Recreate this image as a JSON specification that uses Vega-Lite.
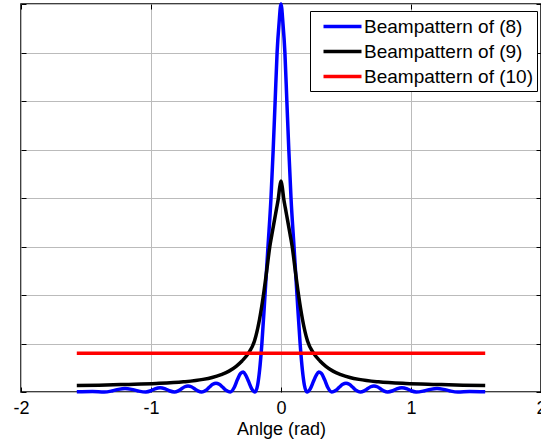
{
  "$schema": "https://vega.github.io/schema/vega-lite/v6.json",
  "width": 520,
  "height": 388,
  "autosize": {"type": "none"},
  "padding": {"left": 21, "top": 4, "right": 0, "bottom": 53},
  "background": "white",
  "config": {
    "font": "Liberation Sans",
    "view": {"stroke": "black", "strokeWidth": 1.5},
    "axis": {
      "domain": false,
      "tickColor": "black",
      "tickSize": -5,
      "tickWidth": 1,
      "gridColor": "#bbbbbb",
      "gridWidth": 1,
      "labelColor": "black",
      "titleColor": "black"
    }
  },
  "data": {
    "values": [
      {"x": -1.5708, "y": 0.005, "series": "Beampattern of (8)"},
      {"x": -1.45, "y": 0.01, "series": "Beampattern of (8)"},
      {"x": -1.36, "y": 0, "series": "Beampattern of (8)"},
      {"x": -1.3, "y": 0.022, "series": "Beampattern of (8)"},
      {"x": -1.25, "y": 0.054, "series": "Beampattern of (8)"},
      {"x": -1.2, "y": 0.07, "series": "Beampattern of (8)"},
      {"x": -1.15, "y": 0.054, "series": "Beampattern of (8)"},
      {"x": -1.1, "y": 0.022, "series": "Beampattern of (8)"},
      {"x": -1.04, "y": 0, "series": "Beampattern of (8)"},
      {"x": -1.0, "y": 0.026, "series": "Beampattern of (8)"},
      {"x": -0.97, "y": 0.064, "series": "Beampattern of (8)"},
      {"x": -0.93, "y": 0.09, "series": "Beampattern of (8)"},
      {"x": -0.89, "y": 0.064, "series": "Beampattern of (8)"},
      {"x": -0.86, "y": 0.026, "series": "Beampattern of (8)"},
      {"x": -0.82, "y": 0, "series": "Beampattern of (8)"},
      {"x": -0.79, "y": 0.024, "series": "Beampattern of (8)"},
      {"x": -0.76, "y": 0.076, "series": "Beampattern of (8)"},
      {"x": -0.74, "y": 0.108, "series": "Beampattern of (8)"},
      {"x": -0.715, "y": 0.125, "series": "Beampattern of (8)"},
      {"x": -0.69, "y": 0.108, "series": "Beampattern of (8)"},
      {"x": -0.67, "y": 0.076, "series": "Beampattern of (8)"},
      {"x": -0.64, "y": 0.024, "series": "Beampattern of (8)"},
      {"x": -0.61, "y": 0, "series": "Beampattern of (8)"},
      {"x": -0.58, "y": 0.031, "series": "Beampattern of (8)"},
      {"x": -0.55, "y": 0.103, "series": "Beampattern of (8)"},
      {"x": -0.525, "y": 0.158, "series": "Beampattern of (8)"},
      {"x": -0.5, "y": 0.18, "series": "Beampattern of (8)"},
      {"x": -0.475, "y": 0.158, "series": "Beampattern of (8)"},
      {"x": -0.45, "y": 0.103, "series": "Beampattern of (8)"},
      {"x": -0.42, "y": 0.031, "series": "Beampattern of (8)"},
      {"x": -0.39, "y": 0, "series": "Beampattern of (8)"},
      {"x": -0.36, "y": 0.093, "series": "Beampattern of (8)"},
      {"x": -0.335, "y": 0.256, "series": "Beampattern of (8)"},
      {"x": -0.31, "y": 0.385, "series": "Beampattern of (8)"},
      {"x": -0.29, "y": 0.41, "series": "Beampattern of (8)"},
      {"x": -0.27, "y": 0.34, "series": "Beampattern of (8)"},
      {"x": -0.25, "y": 0.22, "series": "Beampattern of (8)"},
      {"x": -0.225, "y": 0.066, "series": "Beampattern of (8)"},
      {"x": -0.2, "y": 0, "series": "Beampattern of (8)"},
      {"x": -0.18, "y": 0.14, "series": "Beampattern of (8)"},
      {"x": -0.165, "y": 0.44, "series": "Beampattern of (8)"},
      {"x": -0.147, "y": 1.0, "series": "Beampattern of (8)"},
      {"x": -0.123, "y": 2.0, "series": "Beampattern of (8)"},
      {"x": -0.1, "y": 3.0, "series": "Beampattern of (8)"},
      {"x": -0.077, "y": 4.0, "series": "Beampattern of (8)"},
      {"x": -0.06, "y": 5.0, "series": "Beampattern of (8)"},
      {"x": -0.045, "y": 6.0, "series": "Beampattern of (8)"},
      {"x": -0.03, "y": 7.0, "series": "Beampattern of (8)"},
      {"x": -0.015, "y": 7.6, "series": "Beampattern of (8)"},
      {"x": 0, "y": 8.0, "series": "Beampattern of (8)"},
      {"x": 0.015, "y": 7.6, "series": "Beampattern of (8)"},
      {"x": 0.03, "y": 7.0, "series": "Beampattern of (8)"},
      {"x": 0.045, "y": 6.0, "series": "Beampattern of (8)"},
      {"x": 0.06, "y": 5.0, "series": "Beampattern of (8)"},
      {"x": 0.077, "y": 4.0, "series": "Beampattern of (8)"},
      {"x": 0.1, "y": 3.0, "series": "Beampattern of (8)"},
      {"x": 0.123, "y": 2.0, "series": "Beampattern of (8)"},
      {"x": 0.147, "y": 1.0, "series": "Beampattern of (8)"},
      {"x": 0.165, "y": 0.44, "series": "Beampattern of (8)"},
      {"x": 0.18, "y": 0.14, "series": "Beampattern of (8)"},
      {"x": 0.2, "y": 0, "series": "Beampattern of (8)"},
      {"x": 0.225, "y": 0.066, "series": "Beampattern of (8)"},
      {"x": 0.25, "y": 0.22, "series": "Beampattern of (8)"},
      {"x": 0.27, "y": 0.34, "series": "Beampattern of (8)"},
      {"x": 0.29, "y": 0.41, "series": "Beampattern of (8)"},
      {"x": 0.31, "y": 0.385, "series": "Beampattern of (8)"},
      {"x": 0.335, "y": 0.256, "series": "Beampattern of (8)"},
      {"x": 0.36, "y": 0.093, "series": "Beampattern of (8)"},
      {"x": 0.39, "y": 0, "series": "Beampattern of (8)"},
      {"x": 0.42, "y": 0.031, "series": "Beampattern of (8)"},
      {"x": 0.45, "y": 0.103, "series": "Beampattern of (8)"},
      {"x": 0.475, "y": 0.158, "series": "Beampattern of (8)"},
      {"x": 0.5, "y": 0.18, "series": "Beampattern of (8)"},
      {"x": 0.525, "y": 0.158, "series": "Beampattern of (8)"},
      {"x": 0.55, "y": 0.103, "series": "Beampattern of (8)"},
      {"x": 0.58, "y": 0.031, "series": "Beampattern of (8)"},
      {"x": 0.61, "y": 0, "series": "Beampattern of (8)"},
      {"x": 0.64, "y": 0.024, "series": "Beampattern of (8)"},
      {"x": 0.67, "y": 0.076, "series": "Beampattern of (8)"},
      {"x": 0.69, "y": 0.108, "series": "Beampattern of (8)"},
      {"x": 0.715, "y": 0.125, "series": "Beampattern of (8)"},
      {"x": 0.74, "y": 0.108, "series": "Beampattern of (8)"},
      {"x": 0.76, "y": 0.076, "series": "Beampattern of (8)"},
      {"x": 0.79, "y": 0.024, "series": "Beampattern of (8)"},
      {"x": 0.82, "y": 0, "series": "Beampattern of (8)"},
      {"x": 0.86, "y": 0.026, "series": "Beampattern of (8)"},
      {"x": 0.89, "y": 0.064, "series": "Beampattern of (8)"},
      {"x": 0.93, "y": 0.09, "series": "Beampattern of (8)"},
      {"x": 0.97, "y": 0.064, "series": "Beampattern of (8)"},
      {"x": 1.0, "y": 0.026, "series": "Beampattern of (8)"},
      {"x": 1.04, "y": 0, "series": "Beampattern of (8)"},
      {"x": 1.1, "y": 0.022, "series": "Beampattern of (8)"},
      {"x": 1.15, "y": 0.054, "series": "Beampattern of (8)"},
      {"x": 1.2, "y": 0.07, "series": "Beampattern of (8)"},
      {"x": 1.25, "y": 0.054, "series": "Beampattern of (8)"},
      {"x": 1.3, "y": 0.022, "series": "Beampattern of (8)"},
      {"x": 1.36, "y": 0, "series": "Beampattern of (8)"},
      {"x": 1.45, "y": 0.01, "series": "Beampattern of (8)"},
      {"x": 1.5708, "y": 0.005, "series": "Beampattern of (8)"},

      {"x": -1.5708, "y": 0.135, "series": "Beampattern of (9)"},
      {"x": -1.4, "y": 0.14, "series": "Beampattern of (9)"},
      {"x": -1.2, "y": 0.155, "series": "Beampattern of (9)"},
      {"x": -0.96, "y": 0.175, "series": "Beampattern of (9)"},
      {"x": -0.75, "y": 0.21, "series": "Beampattern of (9)"},
      {"x": -0.6, "y": 0.26, "series": "Beampattern of (9)"},
      {"x": -0.53, "y": 0.3, "series": "Beampattern of (9)"},
      {"x": -0.46, "y": 0.36, "series": "Beampattern of (9)"},
      {"x": -0.4, "y": 0.43, "series": "Beampattern of (9)"},
      {"x": -0.345, "y": 0.53, "series": "Beampattern of (9)"},
      {"x": -0.3, "y": 0.64, "series": "Beampattern of (9)"},
      {"x": -0.25, "y": 0.8, "series": "Beampattern of (9)"},
      {"x": -0.204, "y": 1.05, "series": "Beampattern of (9)"},
      {"x": -0.165, "y": 1.5, "series": "Beampattern of (9)"},
      {"x": -0.135, "y": 2.0, "series": "Beampattern of (9)"},
      {"x": -0.11, "y": 2.5, "series": "Beampattern of (9)"},
      {"x": -0.086, "y": 3.0, "series": "Beampattern of (9)"},
      {"x": -0.07, "y": 3.25, "series": "Beampattern of (9)"},
      {"x": -0.05, "y": 3.55, "series": "Beampattern of (9)"},
      {"x": -0.035, "y": 3.77, "series": "Beampattern of (9)"},
      {"x": -0.02, "y": 4.0, "series": "Beampattern of (9)"},
      {"x": -0.01, "y": 4.22, "series": "Beampattern of (9)"},
      {"x": 0, "y": 4.35, "series": "Beampattern of (9)"},
      {"x": 0.01, "y": 4.22, "series": "Beampattern of (9)"},
      {"x": 0.02, "y": 4.0, "series": "Beampattern of (9)"},
      {"x": 0.035, "y": 3.77, "series": "Beampattern of (9)"},
      {"x": 0.05, "y": 3.55, "series": "Beampattern of (9)"},
      {"x": 0.07, "y": 3.25, "series": "Beampattern of (9)"},
      {"x": 0.086, "y": 3.0, "series": "Beampattern of (9)"},
      {"x": 0.11, "y": 2.5, "series": "Beampattern of (9)"},
      {"x": 0.135, "y": 2.0, "series": "Beampattern of (9)"},
      {"x": 0.165, "y": 1.5, "series": "Beampattern of (9)"},
      {"x": 0.204, "y": 1.05, "series": "Beampattern of (9)"},
      {"x": 0.25, "y": 0.8, "series": "Beampattern of (9)"},
      {"x": 0.3, "y": 0.64, "series": "Beampattern of (9)"},
      {"x": 0.345, "y": 0.53, "series": "Beampattern of (9)"},
      {"x": 0.4, "y": 0.43, "series": "Beampattern of (9)"},
      {"x": 0.46, "y": 0.36, "series": "Beampattern of (9)"},
      {"x": 0.53, "y": 0.3, "series": "Beampattern of (9)"},
      {"x": 0.6, "y": 0.26, "series": "Beampattern of (9)"},
      {"x": 0.75, "y": 0.21, "series": "Beampattern of (9)"},
      {"x": 0.96, "y": 0.175, "series": "Beampattern of (9)"},
      {"x": 1.2, "y": 0.155, "series": "Beampattern of (9)"},
      {"x": 1.4, "y": 0.14, "series": "Beampattern of (9)"},
      {"x": 1.5708, "y": 0.135, "series": "Beampattern of (9)"},

      {"x": -1.5708, "y": 0.8, "series": "Beampattern of (10)"},
      {"x": 1.5708, "y": 0.8, "series": "Beampattern of (10)"}
    ]
  },
  "resolve": {"axis": {"x": "independent", "y": "independent"}},
  "layer": [
    {
      "transform": [{"filter": {"field": "series", "oneOf": ["Beampattern of (8)", "Beampattern of (9)"]}}],
      "mark": {"type": "line", "strokeWidth": 3.5, "interpolate": "monotone"},
      "encoding": {
        "x": {
          "field": "x", "type": "quantitative",
          "scale": {"domain": [-2, 2], "nice": false, "zero": false},
          "axis": {
            "orient": "bottom", "values": [-2, -1, 0, 1, 2],
            "labelExpr": "datum.value < 0 ? '-' + abs(datum.value) : '' + datum.value",
            "grid": true, "labelFontSize": 18, "labelPadding": 12.5, "labelFlush": false,
            "title": "Anlge (rad)", "titleFontSize": 18, "titleFontWeight": "normal", "titlePadding": 3
          }
        },
        "y": {
          "field": "y", "type": "quantitative",
          "scale": {"domain": [0, 8], "nice": false},
          "axis": {"orient": "left", "values": [0, 1, 2, 3, 4, 5, 6, 7, 8], "grid": true, "labels": false, "title": null}
        },
        "color": {
          "field": "series", "type": "nominal",
          "scale": {"domain": ["Beampattern of (8)", "Beampattern of (9)", "Beampattern of (10)"], "range": ["#0000ff", "#000000", "#ff0000"]},
          "legend": {
            "orient": "none", "legendX": 289, "legendY": 7, "title": null,
            "strokeColor": "black", "fillColor": "white", "padding": 4,
            "symbolType": "M-2,0H2", "symbolSize": 361, "symbolStrokeWidth": 3.5,
            "symbolOffset": 17, "labelOffset": 10, "labelFontSize": 19, "labelColor": "black",
            "labelLimit": 400, "rowPadding": 3
          }
        }
      }
    },
    {
      "transform": [{"filter": {"field": "series", "equal": "Beampattern of (10)"}}],
      "mark": {"type": "line", "strokeWidth": 3.5},
      "encoding": {
        "x": {
          "field": "x", "type": "quantitative",
          "scale": {"domain": [-2, 2], "nice": false, "zero": false},
          "axis": {"orient": "top", "values": [-2, -1, 0, 1, 2], "grid": false, "labels": false, "title": null}
        },
        "y": {
          "field": "y", "type": "quantitative",
          "scale": {"domain": [0, 8], "nice": false},
          "axis": {"orient": "right", "values": [0, 1, 2, 3, 4, 5, 6, 7, 8], "grid": false, "labels": false, "title": null}
        },
        "color": {
          "field": "series", "type": "nominal",
          "scale": {"domain": ["Beampattern of (8)", "Beampattern of (9)", "Beampattern of (10)"], "range": ["#0000ff", "#000000", "#ff0000"]}
        }
      }
    }
  ]
}
